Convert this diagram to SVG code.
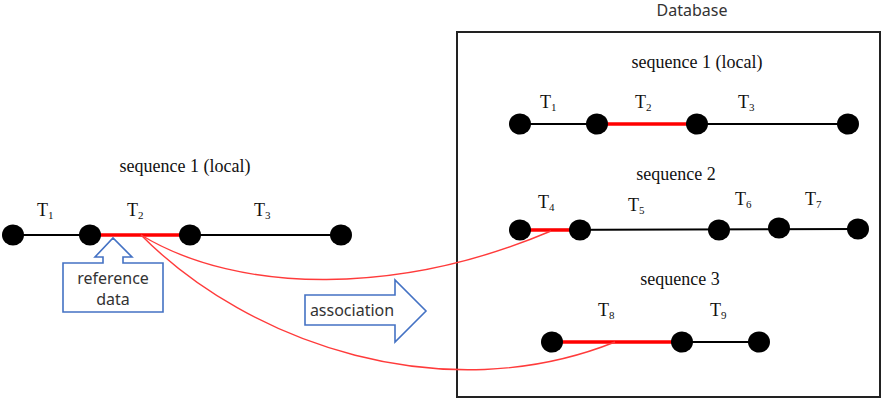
<svg xmlns="http://www.w3.org/2000/svg" width="886" height="402" viewBox="0 0 886 402">
<style>
.lbl{font-family:"Liberation Serif","Times New Roman",serif;font-size:18px;fill:#111}
.sub{font-size:11px}
.sans{font-family:"Noto Sans","Liberation Sans",sans-serif;font-size:16px;fill:#333}
.seg{stroke:#000;stroke-width:2;fill:none}
.red{stroke:#ff0000;stroke-width:3.5;fill:none}
.curve{stroke:#ff3b3b;stroke-width:1.4;fill:none}
.nd{fill:#000}
.blue{fill:#fff;stroke:#4472c4;stroke-width:1.6}
</style>
<rect width="886" height="402" fill="#fff"/>
<g id="database">
<rect x="457" y="32" width="423" height="365" fill="none" stroke="#222" stroke-width="2"/>
<text class="sans" x="692" y="16" text-anchor="middle">Database</text>
</g>
<g id="local-seq1">
<text class="lbl" x="185" y="172" text-anchor="middle">sequence 1 (local)</text>
<line class="seg" x1="13" y1="235" x2="341" y2="235"/>
<line class="red" x1="91" y1="235" x2="190" y2="235"/>
<ellipse class="nd" cx="13" cy="235" rx="11" ry="10.5"/>
<ellipse class="nd" cx="90" cy="235" rx="11" ry="10.5"/>
<ellipse class="nd" cx="190" cy="235" rx="11" ry="10.5"/>
<ellipse class="nd" cx="341" cy="235" rx="11" ry="10.5"/>
<text class="lbl" x="37" y="216">T<tspan class="sub" dy="3">1</tspan></text>
<text class="lbl" x="127" y="216">T<tspan class="sub" dy="3">2</tspan></text>
<text class="lbl" x="254" y="216">T<tspan class="sub" dy="3">3</tspan></text>
</g>
<g id="reference-data">
<path class="blue" d="M63,263 H103 V257 H95 L113,238 L132,257 H123 V263 H163 V312 H63 Z"/>
<text class="sans" x="113" y="284" text-anchor="middle">reference</text>
<text class="sans" x="113" y="305" text-anchor="middle">data</text>
</g>
<g id="association">
<path class="blue" d="M305,295 H395 V280 L426,311 L395,342 V325 H305 Z"/>
<text class="sans" x="352" y="316" text-anchor="middle">association</text>
</g>
<g id="db-seq1">
<text class="lbl" x="697" y="68" text-anchor="middle">sequence 1 (local)</text>
<line class="seg" x1="520" y1="124" x2="848" y2="124"/>
<line class="red" x1="597" y1="124" x2="697" y2="124"/>
<ellipse class="nd" cx="520" cy="124" rx="11" ry="10.5"/>
<ellipse class="nd" cx="597" cy="124" rx="11" ry="10.5"/>
<ellipse class="nd" cx="697" cy="124" rx="11" ry="10.5"/>
<ellipse class="nd" cx="848" cy="124" rx="11" ry="10.5"/>
<text class="lbl" x="540" y="108">T<tspan class="sub" dy="3">1</tspan></text>
<text class="lbl" x="635" y="108">T<tspan class="sub" dy="3">2</tspan></text>
<text class="lbl" x="738" y="108">T<tspan class="sub" dy="3">3</tspan></text>
</g>
<g id="db-seq2">
<text class="lbl" x="676" y="180" text-anchor="middle">sequence 2</text>
<line class="seg" x1="520" y1="230" x2="858" y2="229"/>
<line class="red" x1="519" y1="230" x2="580" y2="230"/>
<ellipse class="nd" cx="520" cy="230" rx="11" ry="10.5"/>
<ellipse class="nd" cx="580" cy="230" rx="11" ry="10.5"/>
<ellipse class="nd" cx="719" cy="230" rx="11" ry="10.5"/>
<ellipse class="nd" cx="779" cy="228" rx="11" ry="10.5"/>
<ellipse class="nd" cx="858" cy="229" rx="11" ry="10.5"/>
<text class="lbl" x="538" y="208">T<tspan class="sub" dy="3">4</tspan></text>
<text class="lbl" x="628" y="211">T<tspan class="sub" dy="3">5</tspan></text>
<text class="lbl" x="735" y="205">T<tspan class="sub" dy="3">6</tspan></text>
<text class="lbl" x="805" y="205">T<tspan class="sub" dy="3">7</tspan></text>
</g>
<g id="db-seq3">
<text class="lbl" x="680" y="285" text-anchor="middle">sequence 3</text>
<line class="seg" x1="552" y1="342" x2="759" y2="342"/>
<line class="red" x1="552" y1="342" x2="682" y2="342"/>
<ellipse class="nd" cx="552" cy="342" rx="11" ry="10.5"/>
<ellipse class="nd" cx="682" cy="342" rx="11" ry="10.5"/>
<ellipse class="nd" cx="759" cy="342" rx="11" ry="10.5"/>
<text class="lbl" x="598" y="316">T<tspan class="sub" dy="3">8</tspan></text>
<text class="lbl" x="710" y="316">T<tspan class="sub" dy="3">9</tspan></text>
</g>
<g id="connectors">
<path class="curve" d="M141,235 C240,295 400,295 551,231"/>
<path class="curve" d="M141,235 C250,345 445,410 615,342"/>
</g>
</svg>
